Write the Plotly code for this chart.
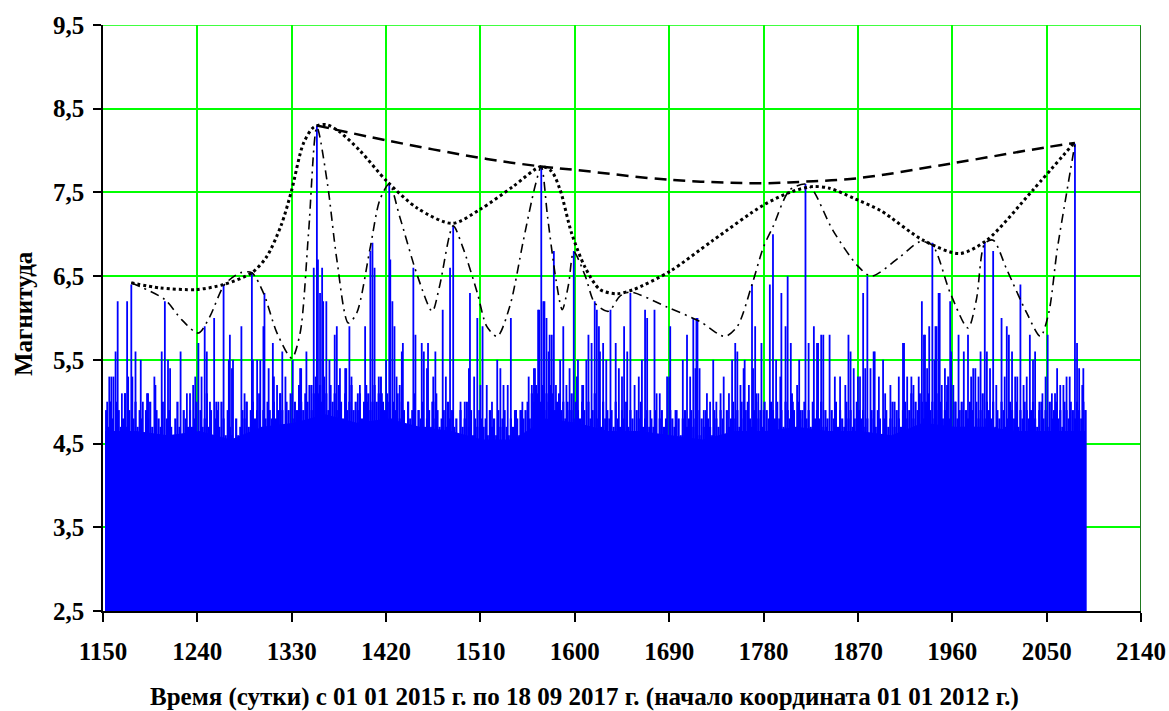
import plotly.graph_objects as go

# ---------------- data ----------------
spike_days = [
    1154, 1156, 1157, 1158, 1160, 1162, 1164, 1168, 1171, 1173, 1174, 1177, 1178, 1181, 1186, 1188,
    1192, 1193, 1199, 1200, 1206, 1209, 1212, 1214, 1224, 1230, 1233, 1236, 1238, 1241, 1244, 1247,
    1249, 1252, 1256, 1258, 1260, 1265, 1270, 1271, 1273, 1274, 1282, 1285, 1287, 1292, 1293, 1297,
    1300, 1303, 1304, 1308, 1312, 1313, 1316, 1319, 1321, 1324, 1331, 1338, 1339, 1344, 1349, 1351,
    1354, 1355, 1357, 1359, 1360, 1363, 1366, 1371, 1373, 1376, 1381, 1382, 1385, 1387, 1393, 1395,
    1400, 1402, 1405, 1407, 1409, 1413, 1416, 1420, 1423, 1424, 1426, 1428, 1430, 1433, 1435, 1436,
    1441, 1446, 1448, 1451, 1454, 1456, 1459, 1460, 1464, 1465, 1467, 1468,
    1474, 1477, 1481, 1484, 1491, 1495, 1499, 1500, 1504, 1507, 1510, 1512, 1516, 1521, 1526, 1529,
    1532, 1536, 1539, 1544, 1548, 1550, 1556, 1559, 1561, 1562, 1565, 1566, 1568, 1570, 1571, 1573,
    1575, 1576, 1578, 1580, 1582, 1586, 1589, 1592, 1595, 1597, 1599, 1602, 1603, 1607, 1608, 1611,
    1613, 1616, 1619, 1621, 1623, 1624, 1627, 1630, 1634, 1639, 1642, 1645, 1647, 1650, 1653, 1657,
    1661, 1664, 1667, 1669, 1672, 1676, 1678, 1681, 1688, 1690, 1691, 1696, 1703, 1707, 1710, 1713,
    1715, 1716, 1717, 1719, 1723, 1726, 1729, 1732, 1735, 1739, 1742, 1747, 1750, 1753, 1755, 1758,
    1761, 1762, 1766, 1769, 1770, 1772, 1773, 1775, 1778,
    1780, 1786, 1789, 1792, 1796, 1797, 1801, 1803, 1806, 1808, 1812, 1814, 1815, 1820, 1823, 1828,
    1831, 1832, 1835, 1837, 1840, 1843, 1848, 1853, 1858, 1861, 1863, 1866, 1870, 1872, 1875, 1877,
    1879, 1882, 1885, 1886, 1890, 1894, 1896, 1901, 1905, 1909, 1913, 1914, 1917, 1921, 1923, 1928,
    1931, 1933, 1934, 1936, 1938, 1941, 1943, 1944, 1945, 1947, 1948, 1950, 1953, 1955, 1956, 1958,
    1959, 1961, 1963, 1966, 1969, 1971, 1975, 1978, 1980, 1982, 1985, 1987, 1991, 1993, 1996, 1999,
    2002, 2007, 2010, 2012, 2014, 2017, 2020, 2022, 2025, 2028, 2031, 2034, 2037, 2039, 2043, 2046,
    2049, 2051, 2055, 2058, 2060, 2063, 2066, 2069, 2072, 2077, 2079, 2081, 2084, 2085, 2087,
]
spike_mags = [
    5.0, 5.3, 5.0, 5.3, 5.3, 5.6, 6.2, 5.1, 5.1, 6.2, 5.3, 6.4, 5.3, 5.6, 5.5, 5.0,
    5.1, 5.1, 5.3, 5.2, 5.6, 6.2, 5.5, 5.4, 5.6, 5.1, 5.1, 5.2, 5.3, 5.7, 5.3, 5.9,
    5.6, 5.0, 6.0, 5.0, 5.0, 6.4, 5.5, 5.8, 5.4, 5.5, 5.9, 5.1, 5.0, 6.55, 5.5, 5.5,
    5.5, 5.9, 6.3, 5.4, 5.7, 5.3, 5.2, 5.1, 5.6, 5.3, 5.5, 5.4, 5.4, 5.6, 5.2, 6.6,
    8.3, 6.7, 6.3, 6.6, 6.2, 6.2, 5.5, 5.8, 5.9, 5.4, 5.4, 5.4, 5.9, 5.3, 5.1, 5.2,
    5.9, 5.0, 6.8, 6.9, 6.6, 5.3, 5.1, 5.5, 7.6, 6.7, 6.2, 5.9, 5.3, 5.2, 5.6, 5.7,
    5.0, 6.6, 5.8, 4.9, 5.7, 5.6, 5.4, 5.7, 5.0, 5.3, 5.6, 5.1,
    6.1, 5.3, 6.6, 7.1, 5.0, 5.0, 5.4, 6.3, 5.3, 6.0, 5.2, 5.9, 5.2, 5.0, 5.5, 5.4,
    5.2, 5.2, 6.0, 4.9, 4.9, 5.0, 5.3, 5.2, 5.4, 5.4, 6.1, 6.1, 7.8, 6.2, 6.2, 6.0,
    5.6, 5.8, 5.8, 6.8, 5.2, 5.5, 5.9, 5.2, 5.4, 4.9, 6.8, 5.3, 5.5, 5.2, 5.2, 5.5,
    5.8, 5.7, 6.2, 6.1, 5.9, 5.6, 5.7, 5.5, 6.1, 5.7, 5.4, 5.3, 5.9, 5.6, 6.3, 5.2,
    5.3, 5.5, 6.1, 6.0, 4.9, 6.1, 5.1, 5.1, 5.3, 5.3, 5.9, 4.9, 5.5, 5.8, 5.3, 6.0,
    5.4, 6.0, 6.0, 5.4, 4.9, 5.1, 5.0, 5.5, 5.0, 5.1, 5.3, 5.1, 5.5, 5.7, 5.6, 5.2,
    5.4, 5.5, 5.2, 6.4, 5.4, 5.9, 5.1, 5.1, 5.7,
    4.9, 6.4, 7.0, 5.5, 5.3, 6.3, 5.9, 6.5, 5.7, 5.0, 5.2, 5.5, 4.9, 7.6, 5.7, 5.9,
    5.7, 5.7, 5.8, 5.8, 4.7, 5.8, 5.3, 5.3, 5.2, 5.8, 5.6, 5.4, 5.3, 5.3, 6.3, 5.4,
    6.5, 5.4, 5.6, 5.6, 5.3, 5.5, 5.1, 5.2, 5.0, 5.3, 5.7, 5.7, 5.3, 5.3, 5.2, 5.3,
    6.2, 5.8, 5.8, 5.4, 5.9, 6.9, 5.5, 5.9, 5.9, 6.3, 6.3, 5.2, 5.4, 5.2, 5.3, 6.2,
    5.6, 5.2, 5.0, 5.8, 4.9, 5.6, 5.8, 5.3, 5.4, 5.4, 5.3, 5.6, 6.9, 5.6, 5.4, 6.8,
    5.2, 6.0, 5.3, 5.9, 5.8, 5.6, 5.3, 5.3, 6.4, 5.2, 5.3, 5.8, 5.5, 5.6, 5.0, 5.1,
    5.3, 5.8, 5.1, 5.1, 5.4, 5.2, 5.2, 5.3, 5.3, 8.08, 5.7, 5.4, 5.2, 5.4, 4.9,
]

# minor events, one reading every second day from day 1153 to day 2087
minor_first_day = 1153
minor_step = 2
minor_mags = [
    4.9, 4.7, 5.0, 4.8, 4.6, 5.0, 4.9, 4.7, 4.8, 5.1, 4.7, 4.9, 4.6, 4.8, 5.0, 4.7, 4.9, 4.8, 4.6, 4.9,
    4.8, 5.0, 4.7, 4.6, 4.9, 4.8, 4.7, 5.0, 4.6, 4.8, 4.9, 4.7, 4.6, 4.8, 5.0, 4.7, 4.6, 4.9, 4.8, 4.7,
    4.9, 4.7, 4.8, 5.0, 4.6, 4.9, 4.7, 4.8, 5.1, 4.7, 4.9, 4.6, 4.8, 4.9, 4.7, 5.0, 4.8, 4.6, 4.9, 4.7,
    4.6, 4.5, 4.8, 4.6, 4.7, 4.9, 4.8, 5.0, 4.7, 4.9, 5.0, 4.8, 4.9, 5.1, 4.7, 4.9, 4.8, 5.0, 4.9, 4.8,
    5.0, 4.8, 4.9, 5.1, 4.9, 4.7, 5.0, 4.9, 5.1, 4.8, 5.0, 4.9, 5.2, 5.0, 4.9, 5.1, 5.0, 5.2, 4.9, 5.1,
    5.3, 5.1, 5.2, 5.0, 5.3, 5.1, 4.9, 5.2, 5.0, 5.1, 4.9, 5.2, 5.0, 4.8, 5.1, 4.9, 5.0, 5.2, 4.9, 5.0,
    4.9, 5.1, 4.8, 5.0, 5.2, 5.1, 4.9, 5.0, 5.2, 5.0, 5.1, 5.3, 5.0, 4.9, 5.1, 5.0, 4.8, 5.0, 4.9, 5.1,
    4.8, 5.0, 4.9, 4.7, 5.0, 4.8, 4.9, 5.1, 4.7, 4.9, 4.8, 5.0, 4.7, 4.8, 4.9, 4.7, 5.0, 4.8, 4.9, 4.7,
    4.8, 4.9, 4.7, 5.0, 4.8, 4.9, 4.7, 4.8, 4.6, 4.9, 4.7, 4.8, 5.0, 4.7, 4.9, 4.6, 4.8, 4.7, 4.9, 4.8,
    4.7, 4.8, 4.6, 4.9, 4.7, 4.8, 4.6, 4.9, 4.7, 4.8, 4.9, 4.7, 4.6, 4.8, 4.7, 4.9, 4.8, 4.6, 4.9, 4.8,
    4.9, 5.0, 4.8, 5.1, 5.0, 5.2, 5.1, 5.0, 5.2, 4.9, 5.1, 5.0, 5.2, 5.1, 4.9, 5.0, 5.1, 4.9, 5.0, 4.8,
    5.0, 4.9, 5.1, 4.8, 5.0, 4.9, 4.8, 5.0, 4.9, 4.7, 5.0, 4.8, 4.9, 5.1, 4.8, 4.9, 4.7, 5.0, 4.8, 4.9,
    4.8, 4.9, 4.7, 5.0, 4.8, 4.7, 4.9, 4.8, 5.0, 4.7, 4.9, 4.8, 4.6, 4.9, 4.8, 5.0, 4.7, 4.8, 4.9, 4.7,
    4.8, 4.7, 4.9, 4.6, 4.8, 4.9, 4.7, 4.8, 4.6, 4.9, 4.8, 4.7, 4.9, 4.8, 4.6, 4.8, 4.9, 4.7, 4.8, 4.9,
    4.7, 4.8, 4.9, 4.6, 4.8, 4.7, 4.9, 4.8, 4.7, 4.6, 4.9, 4.8, 4.7, 4.9, 4.8, 4.6, 4.9, 4.7, 4.8, 5.0,
    4.8, 4.9, 4.7, 5.0, 4.8, 4.9, 5.0, 4.8, 4.7, 4.9, 5.0, 4.8, 4.9, 4.7, 5.0, 4.9, 4.8, 5.0, 4.9, 4.8,
    5.0, 4.8, 4.9, 4.7, 5.0, 4.9, 4.8, 5.1, 4.9, 4.7, 5.0, 4.8, 4.9, 5.0, 4.8, 4.9, 4.7, 5.0, 4.8, 4.9,
    4.8, 5.0, 4.7, 4.9, 4.8, 4.6, 4.9, 4.8, 5.0, 4.7, 4.9, 4.8, 4.7, 5.0, 4.8, 4.9, 4.7, 4.8, 5.0, 4.9,
    4.8, 4.9, 4.7, 4.8, 4.6, 4.9, 4.8, 4.7, 4.9, 4.8, 4.6, 4.8, 4.9, 4.7, 4.8, 5.0, 4.7, 4.9, 4.8, 4.7,
    4.9, 5.0, 4.8, 4.9, 5.1, 4.8, 5.0, 4.9, 5.1, 5.0, 4.8, 5.0, 5.1, 4.9, 5.0, 4.8, 5.1, 4.9, 5.0, 4.8,
    4.9, 5.0, 4.8, 4.9, 4.7, 5.0, 4.8, 4.9, 5.0, 4.7, 4.9, 4.8, 5.0, 4.9, 4.7, 5.0, 4.8, 4.9, 5.1, 4.8,
    5.0, 4.9, 4.8, 5.0, 4.7, 4.9, 4.8, 5.0, 4.9, 4.7, 4.8, 5.0, 4.9, 4.8, 5.0, 4.7, 4.9, 4.8, 5.0, 4.9,
    4.8, 4.9, 5.0, 4.8, 4.7, 4.9, 5.0, 4.8, 4.9, 4.7, 5.0, 4.8, 4.9, 5.0, 4.8, 4.9, 4.7, 5.0, 4.9, 4.8,
    5.0, 4.9, 4.8, 5.0, 4.9, 4.8, 5.0, 4.9,
]

# dense lower mass of events (top of the solid blue band)
base_days = [1152, 1182, 1212, 1242, 1272, 1302, 1332, 1362, 1392, 1422, 1452, 1482, 1512, 1542,
             1572, 1602, 1632, 1662, 1692, 1722, 1752, 1782, 1812, 1842, 1872, 1902, 1932, 1962,
             1992, 2022, 2052, 2087]
base_mags = [4.65, 4.65, 4.6, 4.65, 4.55, 4.7, 4.75, 4.85, 4.75, 4.8, 4.7, 4.65, 4.55, 4.55,
             4.8, 4.75, 4.65, 4.65, 4.6, 4.55, 4.65, 4.65, 4.7, 4.65, 4.65, 4.6, 4.75, 4.7,
             4.7, 4.65, 4.65, 4.65]

# dashed envelope of the strongest events
dash_days = [1354, 1421, 1516, 1568, 1600, 1691, 1779, 1820, 1870, 1961, 2050, 2077]
dash_mags = [8.30, 8.12, 7.90, 7.81, 7.77, 7.65, 7.61, 7.63, 7.67, 7.85, 8.04, 8.09]

# dotted envelope
dot_days = [1177, 1204, 1239, 1265, 1292, 1306, 1320, 1330, 1341, 1351, 1363, 1376, 1395, 1421,
            1450, 1483, 1510, 1541, 1568, 1578, 1586, 1597, 1610, 1624, 1640, 1656, 1691, 1732,
            1780, 1807, 1827, 1843, 1866, 1892, 1932, 1967, 1993, 2037, 2076]
dot_mags = [6.42, 6.36, 6.34, 6.40, 6.54, 6.73, 7.11, 7.53, 8.08, 8.28, 8.31, 8.22, 8.00, 7.63,
            7.31, 7.13, 7.30, 7.57, 7.81, 7.75, 7.53, 7.01, 6.60, 6.34, 6.29, 6.34, 6.56, 6.93,
            7.35, 7.51, 7.57, 7.55, 7.43, 7.28, 6.93, 6.77, 6.93, 7.53, 8.09]

# dash-dot envelope
dd_days = [1177, 1209, 1225, 1241, 1252, 1266, 1281, 1292, 1303, 1316, 1330, 1338, 1346, 1354,
           1364, 1373, 1384, 1392, 1405, 1414, 1423, 1433, 1450, 1464, 1471, 1484, 1493, 1507,
           1516, 1526, 1538, 1551, 1562, 1568, 1574, 1582, 1588, 1594, 1599, 1610, 1619, 1632,
           1643, 1653, 1688, 1719, 1743, 1755, 1769, 1780, 1789, 1805, 1820, 1827, 1846, 1870,
           1883, 1910, 1929, 1941, 1958, 1975, 1983, 1991, 1999, 2012, 2031, 2044, 2052, 2060,
           2069, 2077]
dd_mags = [6.42, 6.22, 5.98, 5.82, 6.02, 6.40, 6.54, 6.54, 6.30, 5.82, 5.52, 5.82, 7.01, 8.28,
           7.61, 6.70, 5.94, 6.06, 6.85, 7.41, 7.60, 7.21, 6.50, 6.08, 6.38, 7.10, 6.85, 6.30,
           5.90, 5.78, 6.14, 6.93, 7.57, 7.81, 7.21, 6.46, 6.10, 6.40, 6.79, 6.50, 6.18, 6.08,
           6.26, 6.31, 6.13, 5.96, 5.78, 5.90, 6.40, 6.85, 7.09, 7.53, 7.60, 7.53, 7.05, 6.62,
           6.50, 6.73, 6.91, 6.87, 6.30, 5.88, 6.22, 6.89, 6.93, 6.58, 6.06, 5.78, 6.06, 6.81,
           7.49, 8.08]

x_ticks = [1150, 1240, 1330, 1420, 1510, 1600, 1690, 1780, 1870, 1960, 2050, 2140]
y_ticks = [2.5, 3.5, 4.5, 5.5, 6.5, 7.5, 8.5, 9.5]
y_tick_labels = ["2,5", "3,5", "4,5", "5,5", "6,5", "7,5", "8,5", "9,5"]

x_title = "Время (сутки) с 01 01 2015 г. по 18 09 2017 г. (начало координата 01 01 2012 г.)"
y_title = "Магнитуда"

# ---------------- figure ----------------
Y0 = y_ticks[0]
minor_days = [minor_first_day + minor_step * i for i in range(len(minor_mags))]

mx, my = [], []
for d, m in zip(minor_days, minor_mags):
    mx += [d, d, None]
    my += [Y0, m, None]

sx, sy = [], []
for d, m in zip(spike_days, spike_mags):
    sx += [d, d, None]
    sy += [Y0, m, None]

fig = go.Figure()
fig.add_trace(go.Scatter(x=base_days, y=base_mags, mode="lines", fill="tozeroy",
                         line=dict(width=0, color="#0000ff"), fillcolor="#0000ff",
                         hoverinfo="skip", showlegend=False))
fig.add_trace(go.Scatter(x=mx, y=my, mode="lines", line=dict(color="#0000ff", width=2.2),
                         hoverinfo="skip", showlegend=False))
fig.add_trace(go.Scatter(x=sx, y=sy, mode="lines", line=dict(color="#0000ff", width=1.8),
                         showlegend=False))
fig.add_trace(go.Scatter(x=dash_days, y=dash_mags, mode="lines",
                         line=dict(color="black", width=2.5, dash="12px,7px", shape="spline"),
                         showlegend=False))
fig.add_trace(go.Scatter(x=dot_days, y=dot_mags, mode="lines",
                         line=dict(color="black", width=3, dash="dot", shape="spline", smoothing=0.8),
                         showlegend=False))
fig.add_trace(go.Scatter(x=dd_days, y=dd_mags, mode="lines",
                         line=dict(color="black", width=1.6, dash="9px,5px,2px,5px", shape="spline",
                                   smoothing=0.8),
                         showlegend=False))

font_family = "Times New Roman, Liberation Serif, serif"
fig.update_layout(
    width=1169, height=711,
    margin=dict(l=103, r=28, t=25, b=100, autoexpand=False),
    paper_bgcolor="white", plot_bgcolor="white",
    font=dict(family=font_family, color="black"),
    xaxis=dict(range=[1150, 2140], tickvals=x_ticks, ticktext=[str(v) for v in x_ticks],
               automargin=False,
               showgrid=True, gridcolor="#00ff00", gridwidth=1.5,
               showline=True, linecolor="black", linewidth=1.5,
               ticks="outside", ticklen=9, tickwidth=1.5, tickcolor="black",
               ticklabelstandoff=8,
               tickfont=dict(family=font_family, size=25, weight="bold"),
               zeroline=False),
    yaxis=dict(range=[2.5, 9.5], tickvals=y_ticks, ticktext=y_tick_labels,
               automargin=False,
               showgrid=True, gridcolor="#00ff00", gridwidth=1.5,
               showline=True, linecolor="black", linewidth=1.5,
               ticks="outside", ticklen=8, tickwidth=1.5, tickcolor="black",
               ticklabelstandoff=4,
               tickfont=dict(family=font_family, size=25, weight="bold"),
               zeroline=False),
    annotations=[
        dict(text=x_title, xref="paper", yref="paper", x=0.4634, y=-0.1468,
             xanchor="center", yanchor="middle", showarrow=False,
             font=dict(family=font_family, size=25, weight="bold")),
        dict(text=y_title, xref="paper", yref="paper", x=-0.0771, y=0.5085, textangle=-90,
             xanchor="center", yanchor="middle", showarrow=False,
             font=dict(family=font_family, size=25, weight="bold")),
    ],
    shapes=[
        dict(type="line", xref="x", yref="y", x0=2140, x1=2140, y0=2.5, y1=9.5,
             line=dict(color="#1f7a1f", width=2)),
        dict(type="line", xref="x", yref="y", x0=1150, x1=2140, y0=9.5, y1=9.5,
             line=dict(color="#00ff00", width=1.5)),
    ],
)

# remove the browser's default page margin so the figure fills the 1169x711 window exactly
fig.write_html("out.html",
               config={"displayModeBar": False},
               post_script="document.body.style.margin='0';document.body.style.overflow='hidden';")
